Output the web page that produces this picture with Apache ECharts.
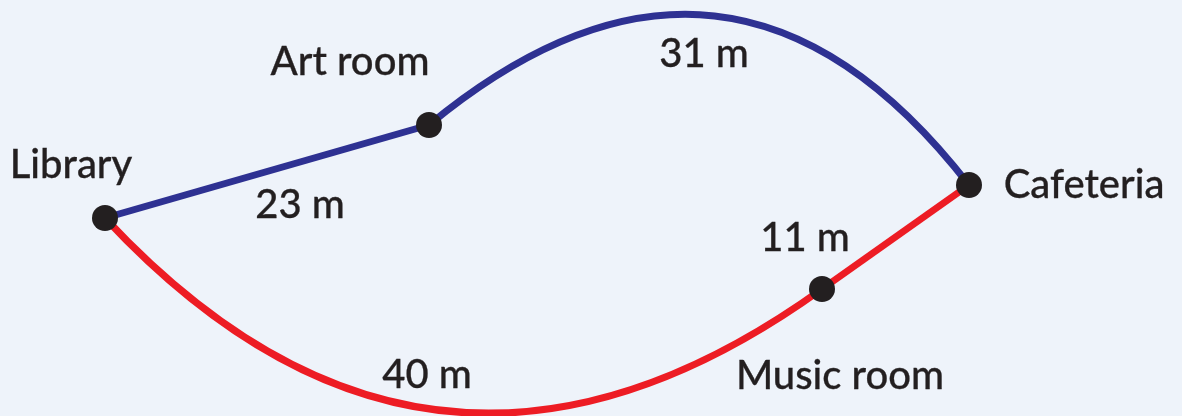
<!DOCTYPE html>
<html><head><meta charset="utf-8">
<script src="https://cdn.jsdelivr.net/npm/echarts@6/dist/echarts.min.js"></script>
<style>html,body{margin:0;padding:0;background:#EEF3FA;}#c{width:1182px;height:416px;}</style>
</head><body><div id="c"></div>
<script>
// Places (nodes) and their positions on the map
const placeNames = ['Library', 'Art room', 'Cafeteria', 'Music room'];
const placeX = [105, 429, 969, 822];
const placeY = [218, 125, 185, 289];
// Paths between places
const pathFrom = ['Library', 'Art room', 'Music room', 'Library'];
const pathTo = ['Art room', 'Cafeteria', 'Cafeteria', 'Music room'];
const pathDistances = ['23 m', '31 m', '11 m', '40 m'];
const pathRoute = ['blue', 'blue', 'red', 'red'];
const pathCurve = [0, 0.515, 0, -0.44];
// Label anchor points
const placeLabelX = [71, 350, 1084, 840];
const placeLabelY = [165, 62, 185, 376];
const distLabelX = [300, 704, 805, 427];
const distLabelY = [205, 54, 238, 375];

const routeColor = { blue: '#2E3192', red: '#ED1C24' };
const FONT = 'Lato';
const FS = 40;

const chart = echarts.init(document.getElementById('c'), null, { renderer: 'canvas' });
const nodes = placeNames.map((n, i) => ({ name: n, value: [placeX[i], placeY[i]] }));
const links = pathFrom.map((s, i) => ({
  source: s, target: pathTo[i],
  lineStyle: { color: routeColor[pathRoute[i]], width: 7, curveness: pathCurve[i], opacity: 1 }
}));
const textData = placeNames.map((n, i) => ({ value: [placeLabelX[i], placeLabelY[i]], label: { formatter: n } }))
  .concat(pathDistances.map((d, i) => ({ value: [distLabelX[i], distLabelY[i]], label: { formatter: d } })));

chart.setOption({
  backgroundColor: '#EEF3FA',
  animation: false,
  grid: { left: 0, right: 0, top: 0, bottom: 0 },
  xAxis: { type: 'value', min: 0, max: 1182, show: false },
  yAxis: { type: 'value', min: 0, max: 416, inverse: true, show: false },
  series: [
    {
      type: 'graph', coordinateSystem: 'cartesian2d', layout: 'none',
      data: nodes, links: links, symbol: 'circle', symbolSize: 26,
      itemStyle: { color: '#231F20', opacity: 1 },
      label: { show: false }, edgeSymbol: ['none', 'none'],
      z: 2
    },
    {
      type: 'scatter', symbolSize: 0, data: textData, z: 3,
      itemStyle: { opacity: 1 },
      label: { show: true, position: 'inside', color: '#231F20', opacity: 1, textBorderColor: '#231F20', textBorderWidth: 0.3,
        fontFamily: FONT, fontWeight: 500, fontSize: FS, align: 'center', verticalAlign: 'middle' }
    }
  ]
});
</script></body></html>
